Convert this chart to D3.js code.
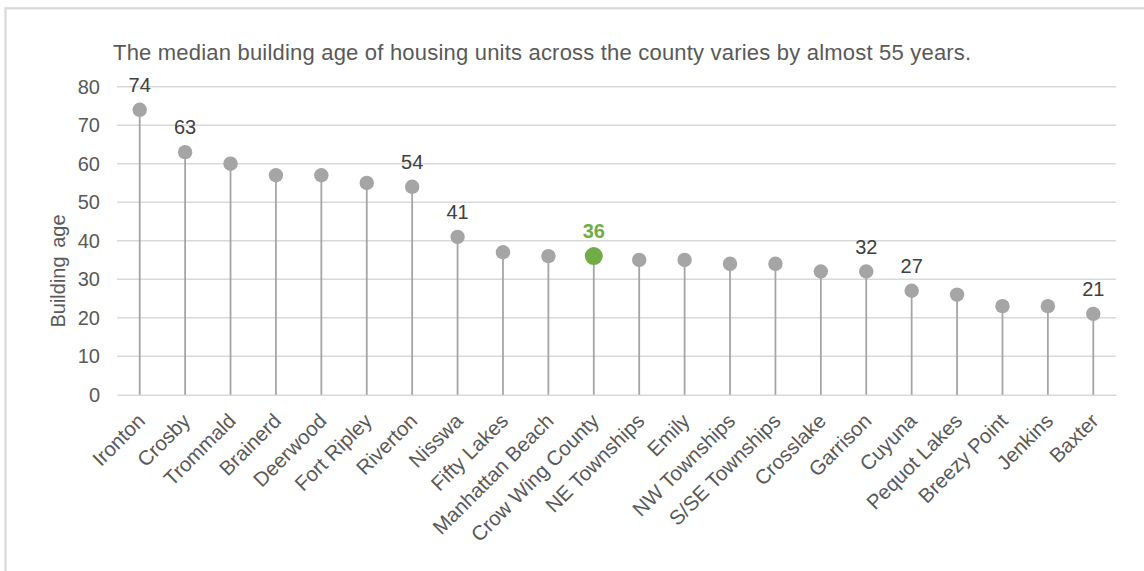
<!DOCTYPE html>
<html>
<head>
<meta charset="utf-8">
<script src="https://cdn.jsdelivr.net/npm/d3@7"></script>
<style>
html,body{margin:0;padding:0;background:#fff;}
svg{display:block;font-family:"Liberation Sans",Arial,sans-serif;}
</style>
</head>
<body>
<svg id="chart" width="1144" height="571"></svg>
<script>
const categories = ["Ironton","Crosby","Trommald","Brainerd","Deerwood","Fort Ripley","Riverton","Nisswa","Fifty Lakes","Manhattan Beach","Crow Wing County","NE Townships","Emily","NW Townships","S/SE Townships","Crosslake","Garrison","Cuyuna","Pequot Lakes","Breezy Point","Jenkins","Baxter"];
const values = [74,63,60,57,57,55,54,41,37,36,36,35,35,34,34,32,32,27,26,23,23,21];
const labelled = ["Ironton","Crosby","Riverton","Nisswa","Crow Wing County","Garrison","Cuyuna","Baxter"];
const highlight = "Crow Wing County";
const yTicks = [0,10,20,30,40,50,60,70,80];
const titleText = "The median building age of housing units across the county varies by almost 55 years.";
const yTitle = "Building age";

const FONT = "Liberation Sans, Arial, sans-serif";
const svg = d3.select("#chart");
const m = {left:117, right:1116, top:86.7, bottom:394.7};

// frame
svg.append("rect").attr("x",5.5).attr("y",8.3).attr("width",1160).attr("height",600)
  .attr("fill","none").attr("stroke","#d9d9d9").attr("stroke-width",2.2);

const x = d3.scaleBand().domain(categories).range([m.left,m.right]);
const y = d3.scaleLinear().domain([0,80]).range([m.bottom,m.top]);

// gridlines
svg.append("g").selectAll("line").data(yTicks.filter(d=>d>0)).join("line")
  .attr("x1",m.left).attr("x2",m.right)
  .attr("y1",d=>y(d)).attr("y2",d=>y(d))
  .attr("stroke","#d9d9d9").attr("stroke-width",1.5);

// y axis labels
const yAxis = d3.axisLeft(y).tickValues(yTicks).tickSize(0).tickPadding(0);
const gy = svg.append("g").attr("transform",`translate(100,0)`).call(yAxis);
gy.select(".domain").remove();
gy.attr("font-size",null).attr("font-family",null);
gy.selectAll("text").attr("font-size",20).attr("fill","#595959").attr("font-family",FONT);

// x axis
const xAxis = d3.axisBottom(x).tickSize(0).tickPadding(0).tickSizeOuter(0);
const gx = svg.append("g").attr("transform",`translate(0,${m.bottom})`).call(xAxis);
gx.attr("font-size",null).attr("font-family",null);
gx.select(".domain").attr("stroke","#d9d9d9").attr("stroke-width",1.5);
gx.selectAll(".tick line").remove();
gx.selectAll("text")
  .attr("font-size",20.5).attr("fill","#595959").attr("font-family",FONT)
  .attr("text-anchor","end").attr("dy",null).attr("y",0).attr("x",0)
  .attr("transform","translate(6.5,27.5) rotate(-45)");

const data = categories.map((c,i)=>({c, v: values[i]}));
const cx = d => x(d.c)+x.bandwidth()/2;

// stems
svg.append("g").selectAll("line").data(data).join("line")
  .attr("x1",cx).attr("x2",cx)
  .attr("y1",y(0)).attr("y2",d=>y(d.v))
  .attr("stroke","#a5a5a5").attr("stroke-width",1.8);

// dots
svg.append("g").selectAll("circle").data(data).join("circle")
  .attr("cx",cx).attr("cy",d=>y(d.v))
  .attr("r",d=>d.c===highlight?9:7.2)
  .attr("fill",d=>d.c===highlight?"#70ad47":"#a5a5a5");

// data labels
svg.append("g").selectAll("text").data(data.filter(d=>labelled.includes(d.c))).join("text")
  .attr("x",cx).attr("y",d=>y(d.v)-18)
  .attr("text-anchor","middle")
  .attr("font-size",20)
  .attr("font-weight",d=>d.c===highlight?"bold":"normal")
  .attr("fill",d=>d.c===highlight?"#70ad47":"#404040")
  .text(d=>d.v);

// title
svg.append("text").attr("x",113).attr("y",60).attr("font-size",22).attr("letter-spacing",0.2)
  .attr("fill","#595959").text(titleText);

// y title
svg.append("text").attr("transform","translate(65,271) rotate(-90)")
  .attr("text-anchor","middle").attr("font-size",20).attr("word-spacing",3).attr("fill","#595959").text(yTitle);
</script>
</body>
</html>
